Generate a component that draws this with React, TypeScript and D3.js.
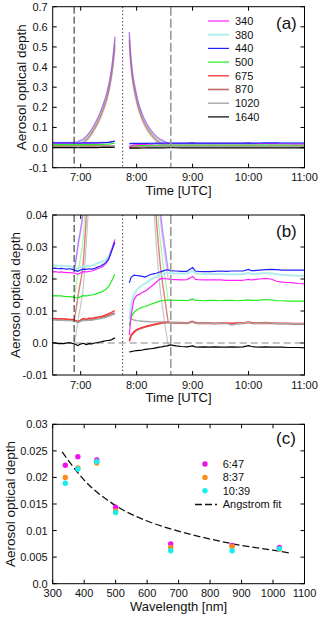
import React from 'react';
import * as d3 from 'd3';

// ---------- shared categories ----------
const WAVELENGTHS = ['340', '380', '440', '500', '675', '870', '1020', '1640'];
const LINE_COLORS = ['#ff22ff', '#b2ecec', '#2020ff', '#22ee22', '#ff3030', '#c06a6a', '#a6a6a6', '#000000'];
const LINE_WIDTHS = [1.2, 2, 1.2, 1.2, 1.3, 1.6, 1.4, 1.2];
const DRAW_ORDER = [5, 4, 6, 3, 1, 0, 2, 7];
const TIME_TICKS = [7, 8, 9, 10, 11];
const TIME_TICK_LABELS = ['7:00', '8:00', '9:00', '10:00', '11:00'];
const EVENT_TIMES = [6.883, 7.75, 8.61];

// ---------- before the gap (hours UTC) ----------
const EARLY_TIMES = [6.5, 6.55, 6.6, 6.65, 6.7, 6.75, 6.8, 6.85, 6.9, 6.95, 7.0, 7.05, 7.1, 7.15, 7.2, 7.25, 7.3, 7.35, 7.4, 7.45, 7.5, 7.55, 7.61];
const EARLY_340 = [.0222, .0223, .0221, .0222, .0221, .0220, .0220, .0219, .0218, .0215, .0219, .0223, .0222, .0224, .0225, .0228, .0232, .0235, .0240, .0248, .0262, .0290, .0324];
const EARLY_380 = [.0242, .0243, .0241, .0242, .0241, .0240, .0240, .0238, .0235, .0232, .0236, .0240, .0239, .0241, .0242, .0245, .0250, .0252, .0255, .0260, .0270, .0290, .0313];
const EARLY_440 = [.0233, .0234, .0232, .0233, .0232, .0231, .0232, .0230, .0227, .0224, .0228, .0231, .0230, .0232, .0231, .0233, .0237, .0240, .0245, .0252, .0262, .0285, .0315];
const EARLY_500 = [.0147, .0148, .0147, .0147, .0146, .0145, .0145, .0144, .0142, .0141, .0145, .0148, .0147, .0149, .0150, .0152, .0155, .0158, .0162, .0168, .0176, .0192, .0215];
const EARLY_675 = [.0076, .0077, .0075, .0076, .0075, .0075, .0074, .0074, .0071, .0067, .0072, .0077, .0074, .0078, .0077, .0079, .0081, .0082, .0085, .0088, .0092, .0096, .0101];
const EARLY_870 = [.0074, .0074, .0073, .0074, .0073, .0072, .0072, .0072, .0070, .0066, .0070, .0074, .0072, .0075, .0074, .0076, .0078, .0079, .0082, .0084, .0087, .0091, .0094];
const EARLY_1020 = [.0072, .0072, .0071, .0072, .0071, .0070, .0070, .0069, .0068, .0064, .0068, .0071, .0070, .0072, .0071, .0073, .0075, .0076, .0078, .0080, .0083, .0087, .0090];
const EARLY_1640 = [.0001, .0000, -.0002, -.0001, -.0002, .0000, .0001, -.0001, -.0004, -.0008, -.0003, -.0001, -.0005, -.0002, -.0003, .0000, .0001, .0003, .0005, .0007, .0008, .0010, .0016];

// ---------- after the gap ----------
const LATE_TIMES = [7.87, 7.9, 7.95, 8.0, 8.05, 8.1, 8.15, 8.2, 8.25, 8.3, 8.35, 8.4, 8.45, 8.5, 8.55, 8.6, 8.7, 8.8, 8.9, 9.0, 9.05, 9.1, 9.2, 9.3, 9.4, 9.5, 9.6, 9.7, 9.8, 9.9, 10.0, 10.05, 10.1, 10.2, 10.3, 10.4, 10.5, 10.6, 10.7, 10.8, 10.9, 11.0];
const LATE_340 = [.0025, .0085, .0135, .0148, .0152, .0158, .0162, .0168, .0175, .0182, .0190, .0198, .0202, .0201, .0200, .0199, .0198, .0197, .0198, .0208, .0199, .0198, .0197, .0197, .0197, .0197, .0196, .0196, .0196, .0196, .0199, .0197, .0198, .0200, .0202, .0200, .0193, .0190, .0189, .0188, .0186, .0185];
const LATE_380 = [.0075, .0120, .0150, .0165, .0175, .0180, .0186, .0192, .0198, .0203, .0207, .0211, .0214, .0217, .0218, .0218, .0217, .0217, .0217, .0226, .0218, .0217, .0216, .0216, .0216, .0216, .0215, .0215, .0215, .0215, .0219, .0216, .0216, .0217, .0218, .0218, .0215, .0213, .0212, .0211, .0210, .0209];
const LATE_440 = [.0188, .0205, .0212, .0211, .0210, .0208, .0206, .0210, .0214, .0216, .0218, .0221, .0224, .0227, .0229, .0226, .0225, .0224, .0224, .0236, .0225, .0224, .0223, .0223, .0224, .0225, .0224, .0225, .0225, .0225, .0230, .0226, .0226, .0228, .0229, .0230, .0229, .0228, .0228, .0228, .0228, .0228];
const LATE_500 = [.0055, .0080, .0095, .0103, .0108, .0112, .0114, .0117, .0121, .0124, .0127, .0130, .0132, .0133, .0134, .0134, .0133, .0133, .0132, .0138, .0133, .0133, .0132, .0133, .0133, .0132, .0133, .0133, .0132, .0133, .0135, .0133, .0133, .0134, .0136, .0135, .0132, .0132, .0131, .0131, .0131, .0131];
const LATE_675 = [.0008, .0025, .0035, .0042, .0046, .0049, .0051, .0054, .0056, .0058, .0060, .0062, .0064, .0065, .0066, .0065, .0064, .0064, .0063, .0068, .0064, .0063, .0063, .0063, .0062, .0063, .0063, .0062, .0063, .0063, .0066, .0064, .0063, .0063, .0064, .0063, .0062, .0062, .0062, .0061, .0061, .0061];
const LATE_870 = [.0005, .0022, .0032, .0040, .0044, .0047, .0049, .0052, .0054, .0056, .0058, .0060, .0062, .0063, .0064, .0063, .0062, .0062, .0061, .0066, .0062, .0061, .0061, .0061, .0060, .0061, .0061, .0060, .0061, .0061, .0064, .0062, .0061, .0061, .0062, .0061, .0060, .0060, .0060, .0059, .0059, .0059];
const LATE_1020 = [.0078, .0075, .0072, .0070, .0069, .0068, .0067, .0067, .0066, .0066, .0066, .0066, .0066, .0066, .0066, .0065, .0064, .0063, .0062, .0066, .0062, .0061, .0062, .0063, .0061, .0062, .0062, .0056, .0060, .0062, .0065, .0061, .0061, .0062, .0063, .0062, .0061, .0061, .0060, .0060, .0060, .0060];
const LATE_1640 = [-.0028, -.0027, -.0025, -.0024, -.0023, -.0022, -.0020, -.0019, -.0018, -.0017, -.0015, -.0013, -.0012, -.0010, -.0009, -.0006, -.0009, -.0011, -.0012, -.0009, -.0012, -.0013, -.0012, -.0013, -.0012, -.0013, -.0013, -.0012, -.0013, -.0012, -.0008, -.0011, -.0012, -.0013, -.0012, -.0013, -.0013, -.0013, -.0014, -.0014, -.0014, -.0015];

// ---------- uncorrected peaks (excess over background) ----------
const RISE_TIMES = [6.883, 6.92, 6.96, 7.0, 7.046, 7.09, 7.13, 7.166, 7.226, 7.286, 7.33, 7.375, 7.42, 7.464, 7.523, 7.571, 7.613];
const RISE_EXCESS = [0, .004, .009, .013, .019, .031, .043, .056, .083, .114, .140, .172, .207, .247, .322, .413, .530];
const FALL_TIMES = [7.868, 7.893, 7.929, 7.96, 7.988, 8.02, 8.059, 8.1, 8.148, 8.2, 8.268, 8.34, 8.416, 8.5, 8.564];
const FALL_EXCESS = [.555, .446, .347, .295, .255, .215, .178, .145, .114, .087, .060, .037, .020, .008, 0];
const RISE_START = [.0218, .0235, .0227, .0142, .0071, .0070, .0068, -.0004];
const FALL_END = [.0200, .0218, .0228, .0134, .0066, .0064, .0066, -.0009];
const PEAK_SCALE = [1.0, 1.0, 0.99, 0.98, 0.96, 0.95, 0.94, 0.93];

const EARLY_VALUES = [EARLY_340, EARLY_380, EARLY_440, EARLY_500, EARLY_675, EARLY_870, EARLY_1020, EARLY_1640];
const LATE_VALUES = [LATE_340, LATE_380, LATE_440, LATE_500, LATE_675, LATE_870, LATE_1020, LATE_1640];

// ---------- panel (c) ----------
const SPECTRAL_WL = [340, 380, 440, 500, 675, 870, 1020];
const AOD_0647 = [.0223, .0239, .0233, .0144, .0075, .0072, .0068];
const AOD_0837 = [.0200, .0218, .0227, .0137, .0068, .0070, .0065];
const AOD_1039 = [.0189, .0216, .0230, .0134, .0062, .0062, .0066];
const SPECTRA = [AOD_0647, AOD_0837, AOD_1039];
const SPECTRA_LABELS = ['6:47', '8:37', '10:39'];
const SPECTRA_COLORS = ['#ee11ee', '#ff8a1a', '#18eeee'];
const FIT_WL = [330, 400, 500, 600, 700, 800, 900, 1000, 1050];
const FIT_AOD = [.0248, .0195, .0147, .0118, .0099, .0084, .0072, .0063, .0058];

const FONT = '"Liberation Sans", Arial, Helvetica, sans-serif';
const X0 = 52.7;
const X1 = 304.5;

type Pt = [number, number];

function Frame({ top, bottom, xTicks, xScale, xLabels, yTicks, yScale, yLabels, xTitle, yTitle, yTitleX, tag, tagY }: any) {
  const tl = 4;
  return (
    <g>
      <rect x={X0} y={top} width={X1 - X0} height={bottom - top} fill="none" stroke="#000" strokeWidth={1} />
      {xTicks.map((t: number, i: number) => (
        <g key={'x' + i}>
          <line x1={xScale(t)} x2={xScale(t)} y1={bottom} y2={bottom - tl} stroke="#000" />
          <line x1={xScale(t)} x2={xScale(t)} y1={top} y2={top + tl} stroke="#000" />
          <text x={xScale(t)} y={bottom + 13.5} textAnchor="middle" fontSize={11} fontFamily={FONT} fill="#111">{xLabels[i]}</text>
        </g>
      ))}
      {yTicks.map((t: number, i: number) => (
        <g key={'y' + i}>
          <line x1={X0} x2={X0 + tl} y1={yScale(t)} y2={yScale(t)} stroke="#000" />
          <line x1={X1} x2={X1 - tl} y1={yScale(t)} y2={yScale(t)} stroke="#000" />
          <text x={X0 - 5} y={yScale(t)} dy="0.36em" textAnchor="end" fontSize={11} fontFamily={FONT} fill="#111">{yLabels[i]}</text>
        </g>
      ))}
      <text x={(X0 + X1) / 2} y={bottom + 27} textAnchor="middle" fontSize={13} fontFamily={FONT} fill="#111">{xTitle}</text>
      <text transform={`translate(${yTitleX},${(top + bottom) / 2}) rotate(-90)`} dy="0.35em" textAnchor="middle" fontSize={13.5} fontFamily={FONT} fill="#111">{yTitle}</text>
      <text x={276} y={tagY} fontSize={17} fontFamily={FONT} fill="#111">{tag}</text>
    </g>
  );
}

function TimePanel({ id, top, bottom, yDomain, yTicks, yLabels, yTitleX, tag, tagY, legend, zeroLine }: any) {
  const x = d3.scaleLinear().domain([6.5, 11]).range([X0, X1]);
  const y = d3.scaleLinear().domain(yDomain).range([bottom, top]);
  const straight = d3.line<Pt>().x(d => x(d[0])).y(d => y(d[1]));
  const smooth = d3.line<Pt>().x(d => x(d[0])).y(d => y(d[1])).curve(d3.curveMonotoneX);
  const rawOrder = [7, 6, 5, 4, 3, 1, 2, 0];
  return (
    <g>
      <defs>
        <clipPath id={id}>
          <rect x={X0} y={top} width={X1 - X0} height={bottom - top} />
        </clipPath>
      </defs>
      <g clipPath={`url(#${id})`}>
        {zeroLine && (
          <line x1={X0} x2={X1} y1={y(0)} y2={y(0)} stroke="#888" strokeWidth={1} strokeDasharray="7,4" />
        )}
        {rawOrder.map(k => {
          const rise: Pt[] = RISE_TIMES.map((t, i) => [t, RISE_START[k] + RISE_EXCESS[i] * PEAK_SCALE[k]]);
          const fall: Pt[] = FALL_TIMES.map((t, i) => [t, FALL_END[k] + FALL_EXCESS[i] * PEAK_SCALE[k]]);
          return (
            <g key={'raw' + k} opacity={0.4}>
              <path d={smooth(rise) || ''} fill="none" stroke={k === 7 ? '#777' : LINE_COLORS[k]} strokeWidth={1.2} />
              <path d={smooth(fall) || ''} fill="none" stroke={k === 7 ? '#777' : LINE_COLORS[k]} strokeWidth={1.2} />
            </g>
          );
        })}
        {DRAW_ORDER.map(k => {
          const early: Pt[] = EARLY_TIMES.map((t, i) => [t, EARLY_VALUES[k][i]]);
          const late: Pt[] = LATE_TIMES.map((t, i) => [t, LATE_VALUES[k][i]]);
          return (
            <g key={'s' + k}>
              <path d={straight(early) || ''} fill="none" stroke={LINE_COLORS[k]} strokeWidth={LINE_WIDTHS[k]} strokeLinejoin="round" />
              <path d={straight(late) || ''} fill="none" stroke={LINE_COLORS[k]} strokeWidth={LINE_WIDTHS[k]} strokeLinejoin="round" />
            </g>
          );
        })}
        <line x1={x(EVENT_TIMES[0])} x2={x(EVENT_TIMES[0])} y1={top} y2={bottom} stroke="#222" strokeWidth={1} strokeDasharray="7,3" />
        <line x1={x(EVENT_TIMES[1])} x2={x(EVENT_TIMES[1])} y1={top} y2={bottom} stroke="#222" strokeWidth={1} strokeDasharray="1.2,2.4" />
        <line x1={x(EVENT_TIMES[2])} x2={x(EVENT_TIMES[2])} y1={top} y2={bottom} stroke="#999" strokeWidth={1.6} strokeDasharray="9,3" />
      </g>
      <Frame top={top} bottom={bottom} xTicks={TIME_TICKS} xScale={x} xLabels={TIME_TICK_LABELS}
        yTicks={yTicks} yScale={y} yLabels={yLabels} xTitle="Time [UTC]" yTitle="Aerosol optical depth"
        yTitleX={yTitleX} tag={tag} tagY={tagY} />
      {legend && WAVELENGTHS.map((w, i) => {
        const ly = 21 + i * 13.7;
        return (
          <g key={'lg' + w}>
            <line x1={208} x2={229} y1={ly} y2={ly} stroke={LINE_COLORS[i]} strokeWidth={LINE_WIDTHS[i]} />
            <text x={235} y={ly} dy="0.36em" fontSize={11} fontFamily={FONT} fill="#111">{w}</text>
          </g>
        );
      })}
    </g>
  );
}

function SpectrumPanel() {
  const top = 424.3;
  const bottom = 583.7;
  const x = d3.scaleLinear().domain([300, 1100]).range([X0, X1]);
  const y = d3.scaleLinear().domain([0, 0.03]).range([bottom, top]);
  const xTicks = d3.range(300, 1101, 100);
  const yTicks = [0, 0.005, 0.01, 0.015, 0.02, 0.025, 0.03];
  const yLabels = ['0.0', '0.005', '0.01', '0.015', '0.02', '0.025', '0.03'];
  const fitLine = d3.line<Pt>().x(d => x(d[0])).y(d => y(d[1])).curve(d3.curveMonotoneX);
  const fitPts: Pt[] = FIT_WL.map((w, i) => [w, FIT_AOD[i]]);
  return (
    <g>
      <path d={fitLine(fitPts) || ''} fill="none" stroke="#111" strokeWidth={1.3} strokeDasharray="7,3" />
      {SPECTRA.map((arr, s) => (
        <g key={'sp' + s}>
          {SPECTRAL_WL.map((w, i) => (
            <circle key={w} cx={x(w)} cy={y(arr[i])} r={2.7} fill={SPECTRA_COLORS[s]} />
          ))}
        </g>
      ))}
      <Frame top={top} bottom={bottom} xTicks={xTicks} xScale={x} xLabels={xTicks.map(String)}
        yTicks={yTicks} yScale={y} yLabels={yLabels} xTitle="Wavelength [nm]" yTitle="Aerosol optical depth"
        yTitleX={10} tag="(c)" tagY={444} />
      {SPECTRA_LABELS.map((lab, i) => {
        const ly = 464 + i * 13.4;
        return (
          <g key={'sl' + i}>
            <circle cx={205} cy={ly} r={2.7} fill={SPECTRA_COLORS[i]} />
            <text x={222.7} y={ly} dy="0.36em" fontSize={11} fontFamily={FONT} fill="#111">{lab}</text>
          </g>
        );
      })}
      <line x1={195} x2={217} y1={504.5} y2={504.5} stroke="#111" strokeWidth={1.3} strokeDasharray="7,3" />
      <text x={222.7} y={504.5} dy="0.36em" fontSize={11} fontFamily={FONT} fill="#111">Angstrom fit</text>
    </g>
  );
}

export default function App() {
  return (
    <svg width={320} height={618} style={{ position: 'absolute', left: 0, top: 0, background: '#fff' }}>
      <rect x={0} y={0} width={320} height={618} fill="#fff" />
      <TimePanel id="clipA" top={6.7} bottom={167.7} yDomain={[-0.1, 0.7]}
        yTicks={[-0.1, 0, 0.1, 0.2, 0.3, 0.4, 0.5, 0.6, 0.7]}
        yLabels={['-0.1', '0.0', '0.1', '0.2', '0.3', '0.4', '0.5', '0.6', '0.7']}
        yTitleX={21.5} tag="(a)" tagY={28.5} legend={true} zeroLine={false} />
      <TimePanel id="clipB" top={215} bottom={375} yDomain={[-0.01, 0.04]}
        yTicks={[-0.01, 0, 0.01, 0.02, 0.03, 0.04]}
        yLabels={['-0.01', '0.0', '0.01', '0.02', '0.03', '0.04']}
        yTitleX={15.5} tag="(b)" tagY={237} legend={false} zeroLine={true} />
      <SpectrumPanel />
    </svg>
  );
}
